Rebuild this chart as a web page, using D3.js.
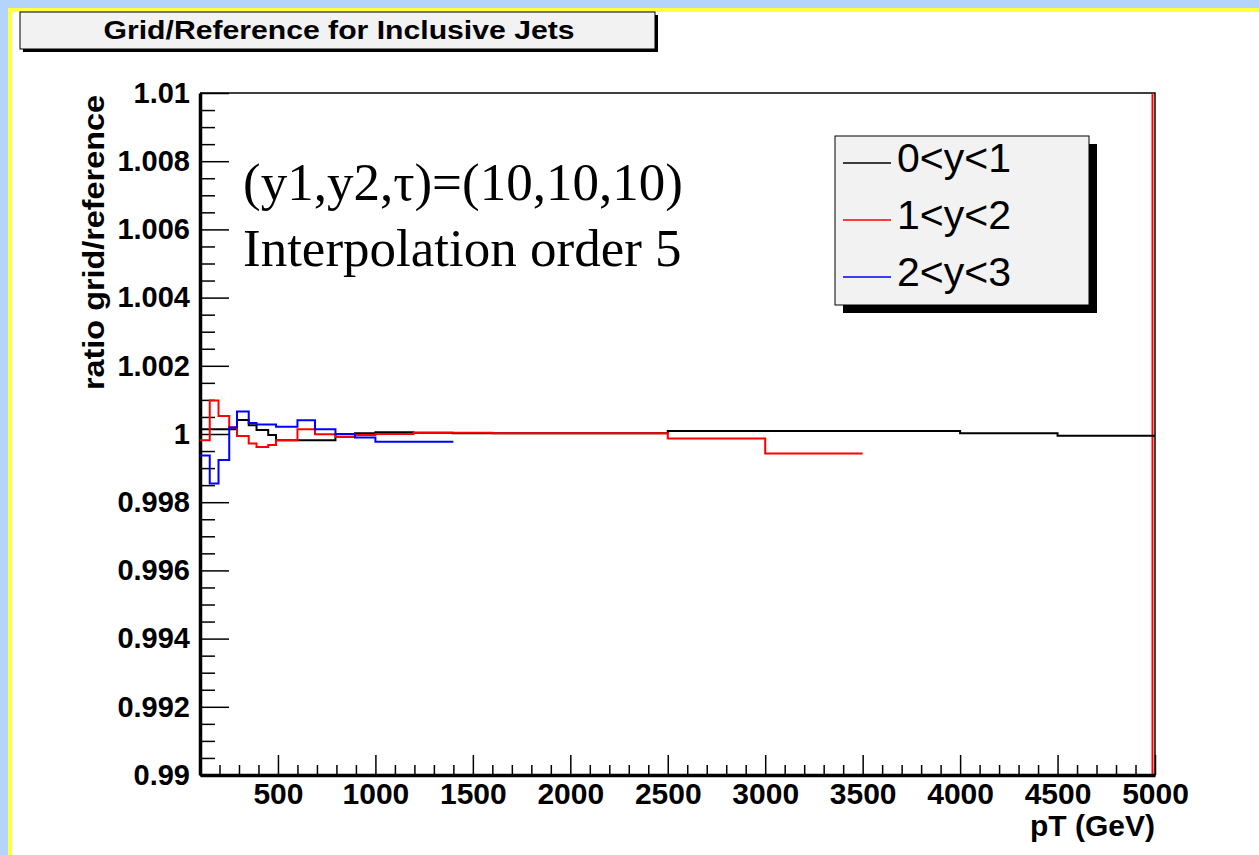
<!DOCTYPE html>
<html><head><meta charset="utf-8">
<script src="https://cdn.jsdelivr.net/npm/d3@7"></script>
<style>body{margin:0;background:#fff;overflow:hidden}svg{display:block}</style>
</head><body>
<script>
// ---- data ----
const seriesNames = ["0<y<1", "1<y<2", "2<y<3"];
const seriesColors = ["#000000", "#ff0000", "#0000ff"];

const blackEdges  = [100, 290, 350, 390, 450, 490, 795, 895, 1000, 1195, 1395, 1600, 2500, 4000, 4500, 5000];
const blackValues = [1.00014, 1.00041, 1.00026, 1.00012, 0.99997, 0.99982, 0.99999, 1.00002, 1.00005, 1.00004, 1.00002, 1.00002, 1.00009, 1.00002, 0.99995];

const redEdges  = [100, 150, 195, 250, 290, 350, 390, 450, 490, 600, 690, 795, 895, 1000, 1195, 1600, 2500, 3000, 3500];
const redValues = [0.99982, 1.00098, 1.00053, 1.0002, 0.99994, 0.99972, 0.99962, 0.99968, 0.99982, 1.00014, 0.99999, 0.99991, 0.99997, 1.0, 1.00004, 1.00002, 0.99987, 0.99943];

const blueEdges  = [100, 150, 195, 250, 290, 350, 390, 490, 600, 690, 795, 895, 1000, 1400];
const blueValues = [0.99937, 0.99855, 0.99924, 1.00019, 1.00066, 1.00032, 1.00028, 1.00021, 1.0004, 1.00014, 1.0, 0.9999, 0.99977];

const xMajorTicks = [500, 1000, 1500, 2000, 2500, 3000, 3500, 4000, 4500, 5000];
const xTickLabels = ["500", "1000", "1500", "2000", "2500", "3000", "3500", "4000", "4500", "5000"];
const yMajorTicks = [0.99, 0.992, 0.994, 0.996, 0.998, 1.0, 1.002, 1.004, 1.006, 1.008, 1.01];
const yTickLabels = ["0.99", "0.992", "0.994", "0.996", "0.998", "1", "1.002", "1.004", "1.006", "1.008", "1.01"];
const xDomain = [100, 5000];
const yDomain = [0.99, 1.01];

const titleText = "Grid/Reference for Inclusive Jets";
const xTitle = "pT (GeV)";
const yTitle = "ratio grid/reference";
const noteLines = ["(y1,y2,\u03c4)=(10,10,10)", "Interpolation order 5"];

// ---- drawing ----
const W = 1259, H = 855;
const X0 = 200, X1 = 1155, Y0 = 93, Y1 = 775;
const svg = d3.select("body").append("svg").attr("width", W).attr("height", H);
const sans = "'Liberation Sans', Arial, Helvetica, sans-serif";
const serif = "'Liberation Serif', 'Times New Roman', serif";

svg.append("rect").attr("width", W).attr("height", H).attr("fill", "#fff");
// page border bands
svg.append("rect").attr("x", 0).attr("y", 0).attr("width", W).attr("height", 8).attr("fill", "#b4d4fb");
svg.append("rect").attr("x", 0).attr("y", 0).attr("width", 8).attr("height", H).attr("fill", "#b4d4fb");
svg.append("rect").attr("x", 8).attr("y", 8).attr("width", W - 8).attr("height", 4).attr("fill", "#ffff44");
svg.append("rect").attr("x", 8).attr("y", 8).attr("width", 4).attr("height", H - 8).attr("fill", "#ffff44");

// title box
svg.append("rect").attr("x", 23).attr("y", 15).attr("width", 635).attr("height", 37).attr("fill", "#000");
svg.append("rect").attr("x", 20).attr("y", 12).attr("width", 635).attr("height", 37)
  .attr("fill", "#f2f2f2").attr("stroke", "#000").attr("stroke-width", 1);
svg.append("text").attr("x", 339).attr("y", 39).attr("text-anchor", "middle")
  .attr("font-family", sans).attr("font-weight", "bold").attr("font-size", 26)
  .attr("textLength", 471).attr("lengthAdjust", "spacingAndGlyphs").text(titleText);

const x = d3.scaleLinear().domain(xDomain).range([X0, X1]);
const y = d3.scaleLinear().domain(yDomain).range([Y1, Y0]);

// frame (top/right)
svg.append("path").attr("d", `M${X0},${Y0}H${X1}V${Y1}`).attr("fill", "none")
  .attr("stroke", "#000").attr("stroke-width", 1.5);
// red vertical at the upper x edge
svg.append("line").attr("x1", x(xDomain[1]) - 2.5).attr("x2", x(xDomain[1]) - 2.5)
  .attr("y1", y(yDomain[1])).attr("y2", y(yDomain[0])).attr("stroke", "#ff0000").attr("stroke-width", 2);

// minor ticks
const xMinor = d3.range(200, 5000, 100).filter(v => v % 500 !== 0);
const yMinor = d3.range(0, 41).map(i => 0.99 + i * 0.0005).filter((v, i) => i % 4 !== 0);

const gx = svg.append("g").attr("transform", `translate(0,${Y1})`);
gx.call(d3.axisBottom(x).tickValues(xMinor).tickSizeInner(-10).tickSizeOuter(0).tickFormat(""));
gx.call(g => g.selectAll(".tick line").attr("stroke-width", 1.5));
const gx2 = svg.append("g").attr("transform", `translate(0,${Y1})`);
gx2.call(d3.axisBottom(x).tickValues(xMajorTicks).tickSizeInner(-20).tickSizeOuter(0).tickPadding(8)
  .tickFormat((d, i) => xTickLabels[i]));
gx2.selectAll(".tick line").attr("stroke-width", 1.5);
gx2.selectAll(".tick text").attr("font-family", sans).attr("font-weight", "bold").attr("font-size", 30).attr("fill", "#000");
gx2.select(".domain").attr("stroke-width", 3.5);

const gy = svg.append("g").attr("transform", `translate(${X0},0)`);
gy.call(d3.axisLeft(y).tickValues(yMinor).tickSizeInner(-15).tickSizeOuter(0).tickFormat(""));
gy.selectAll(".tick line").attr("stroke-width", 1.5);
const gy2 = svg.append("g").attr("transform", `translate(${X0},0)`);
gy2.call(d3.axisLeft(y).tickValues(yMajorTicks).tickSizeInner(-29).tickSizeOuter(0).tickPadding(10)
  .tickFormat((d, i) => yTickLabels[i]));
gy2.selectAll(".tick line").attr("stroke-width", 1.5);
gy2.selectAll(".tick text").attr("font-family", sans).attr("font-weight", "bold").attr("font-size", 29).attr("fill", "#000");
gy2.select(".domain").attr("stroke-width", 3.5);

// axis titles
svg.append("text").attr("x", X1).attr("y", 836).attr("text-anchor", "end")
  .attr("font-family", sans).attr("font-weight", "bold").attr("font-size", 30).text(xTitle);
svg.append("text").attr("transform", `translate(104,95) rotate(-90)`).attr("text-anchor", "end")
  .attr("font-family", sans).attr("font-weight", "bold").attr("font-size", 30)
  .attr("textLength", 295).attr("lengthAdjust", "spacingAndGlyphs").text(yTitle);

// histograms
const series = [
  { edges: blackEdges, values: blackValues },
  { edges: redEdges, values: redValues },
  { edges: blueEdges, values: blueValues }
];
const line = d3.line().x(d => x(d[0])).y(d => y(d[1])).curve(d3.curveStepAfter);
series.forEach((s, k) => {
  const pts = s.values.map((v, i) => [s.edges[i], v]);
  pts.push([s.edges[s.edges.length - 1], s.values[s.values.length - 1]]);
  svg.append("path").datum(pts).attr("d", line).attr("fill", "none")
    .attr("stroke", seriesColors[k]).attr("stroke-width", 2);
});

// annotations
noteLines.forEach((t, i) => {
  svg.append("text").attr("x", 243).attr("y", 200 + i * 66)
    .attr("font-family", serif).attr("font-size", 53).attr("fill", "#000").text(t);
});

// legend
const L = { x: 835, y: 136, w: 254, h: 169 };
svg.append("rect").attr("x", L.x + 8).attr("y", L.y + 8).attr("width", L.w).attr("height", L.h).attr("fill", "#000");
svg.append("rect").attr("x", L.x).attr("y", L.y).attr("width", L.w).attr("height", L.h)
  .attr("fill", "#f2f2f2").attr("stroke", "#000").attr("stroke-width", 1);
seriesNames.forEach((n, i) => {
  const ly = 163 + i * 57;
  svg.append("line").attr("x1", 843).attr("x2", 891).attr("y1", ly).attr("y2", ly)
    .attr("stroke", seriesColors[i]).attr("stroke-width", 1.5);
  svg.append("text").attr("x", 897).attr("y", 172 + i * 57)
    .attr("font-family", sans).attr("font-size", 41).attr("fill", "#000").text(n);
});
</script>
</body></html>
